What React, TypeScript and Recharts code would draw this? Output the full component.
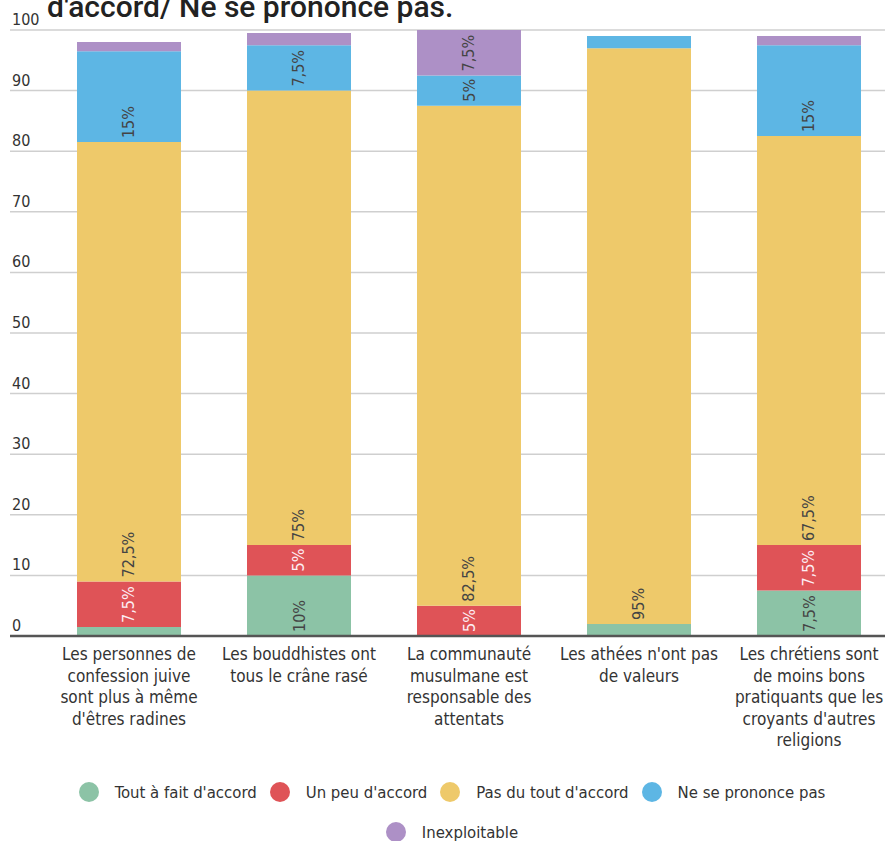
import { BarChart, Bar, XAxis, YAxis, CartesianGrid, ReferenceLine, LabelList } from "recharts";

const categories = [
  "Les personnes de\nconfession juive\nsont plus à même\nd'êtres radines",
  "Les bouddhistes ont\ntous le crâne rasé",
  "La communauté\nmusulmane est\nresponsable des\nattentats",
  "Les athées n'ont pas\nde valeurs",
  "Les chrétiens sont\nde moins bons\npratiquants que les\ncroyants d'autres\nreligions",
];

const toutAFait = [1.5, 10, 0, 2, 7.5];
const unPeu = [7.5, 5, 5, 0, 7.5];
const pasDuTout = [72.5, 75, 82.5, 95, 67.5];
const neSePrononce = [15, 7.5, 5, 2, 15];
const inexploitable = [1.5, 2, 7.5, 0, 1.5];

const yTicks = [0, 10, 20, 30, 40, 50, 60, 70, 80, 90, 100];

const seriesKeys = ["tout", "peu", "pas", "ne", "inex"];
const seriesNames = ["Tout à fait d'accord", "Un peu d'accord", "Pas du tout d'accord", "Ne se prononce pas", "Inexploitable"];
const seriesColors = ["#8cc3a6", "#df5357", "#eec96a", "#5db6e4", "#ad90c6"];

const data = categories.map((category, i) => ({
  category,
  tout: toutAFait[i],
  peu: unPeu[i],
  pas: pasDuTout[i],
  ne: neSePrononce[i],
  inex: inexploitable[i],
}));

const FONT = "'DejaVu Sans Condensed', 'DejaVu Sans', sans-serif";

const fmt = (v: number) => `${String(v).replace(".", ",")}%`;

// rotated label sitting at the bottom of each segment, only on the bigger ones
function segmentLabel(color: string) {
  return (props: any) => {
    const { x, y, width, height, value } = props;
    if (value == null || value < 5) return null;
    const cx = Number(x) + Number(width) / 2;
    const by = Number(y) + Number(height) - 4;
    return (
      <text
        x={cx}
        y={by}
        transform={`rotate(-90 ${cx} ${by})`}
        textAnchor="start"
        dominantBaseline="central"
        fill={color}
        fontSize={16}
        fontFamily={FONT}
        style={{ fontStretch: "condensed" }}
      >
        {fmt(value)}
      </text>
    );
  };
}

function CategoryTick({ x, y, payload }: any) {
  const lines = String(payload.value).split("\n");
  return (
    <text x={x} y={y + 24} textAnchor="middle" fill="#333" fontSize={17} fontFamily={FONT} style={{ fontStretch: "condensed" }}>
      {lines.map((l, i) => (
        <tspan key={i} x={x} dy={i === 0 ? 0 : 21.5}>
          {l}
        </tspan>
      ))}
    </text>
  );
}

function ValueTick({ x, y, payload }: any) {
  return (
    <text x={x} y={y - 5} textAnchor="start" fill="#333" fontSize={16} fontFamily={FONT} style={{ fontStretch: "condensed" }}>
      {payload.value}
    </text>
  );
}

export default function App() {
  return (
    <div style={{ position: "absolute", left: 0, top: 0, width: 885, height: 841, overflow: "hidden", background: "#fff" }}>
      <div
        style={{
          position: "absolute",
          left: 47,
          top: -11,
          fontFamily: "Roboto, sans-serif",
          fontSize: 30,
          lineHeight: "36px",
          fontWeight: 500,
          color: "#222",
          whiteSpace: "nowrap",
        }}
      >
        d'accord/ Ne se prononce pas.
      </div>
      <BarChart width={920} height={841} data={data} margin={{ top: 30, right: 16, left: 10, bottom: 0 }}>
        <CartesianGrid vertical={false} stroke="#cfcfcf" strokeWidth={1.5} />
        <XAxis
          dataKey="category"
          height={205}
          interval={0}
          tickLine={false}
          axisLine={false}
          tickSize={0}
          tickMargin={0}
          padding={{ left: 34, right: 10 }}
          tick={<CategoryTick />}
        />
        <YAxis
          mirror
          domain={[0, 100]}
          ticks={yTicks}
          axisLine={false}
          tickLine={false}
          tickSize={0}
          tickMargin={2}
          tick={<ValueTick />}
        />
        {seriesKeys.map((key, i) => (
          <Bar key={key} dataKey={key} name={seriesNames[i]} stackId="a" fill={seriesColors[i]} barSize={104} isAnimationActive={false}>
            <LabelList dataKey={key} content={segmentLabel(key === "peu" ? "#fdeef4" : "#444")} />
          </Bar>
        ))}
        <ReferenceLine y={0} stroke="#555" strokeWidth={2.5} />
      </BarChart>
      <div
        style={{
          position: "absolute",
          left: 52,
          top: 782,
          width: 800,
          display: "flex",
          flexWrap: "wrap",
          justifyContent: "center",
          columnGap: 13,
          rowGap: 20,
          fontFamily: FONT,
          fontStretch: "condensed",
          fontSize: 16.6,
          color: "#333",
        }}
      >
        {seriesNames.map((name, i) => (
          <div key={name} style={{ display: "flex", alignItems: "center", height: 20 }}>
            <span style={{ width: 20, height: 20, borderRadius: "50%", background: seriesColors[i], marginRight: 16 }} />
            <span>{name}</span>
          </div>
        ))}
      </div>
    </div>
  );
}
